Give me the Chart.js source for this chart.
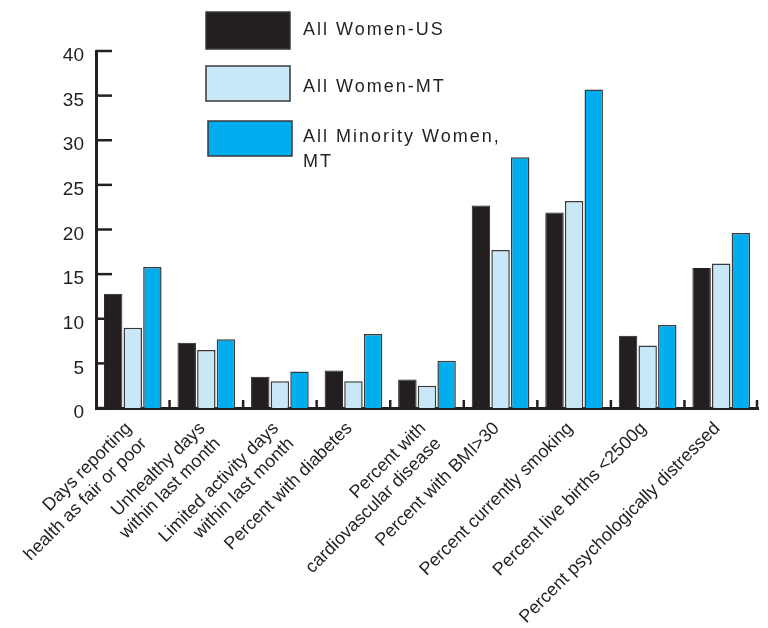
<!DOCTYPE html>
<html>
<head>
<meta charset="utf-8">
<script src="https://cdn.jsdelivr.net/npm/chart.js@4.4.1/dist/chart.umd.min.js"></script>
<style>
  html, body { margin: 0; padding: 0; background: #fff; }
  #wrap { width: 768px; height: 628px; }
</style>
</head>
<body>
<div id="wrap"><canvas id="chart" width="768" height="628"></canvas></div>
<script>
// --- Dados do gráfico ---
const categories = [
    ['Days reporting', 'health as fair or poor'],
    ['Unhealthy days', 'within last month'],
    ['Limited activity days', 'within last month'],
    'Percent with diabetes',
    ['Percent with', 'cardiovascular disease'],
    'Percent with BMI>30',
    'Percent currently smoking',
    'Percent live births <2500g',
    'Percent psychologically distressed'
];
const allWomenUS = [12.8, 7.3, 3.5, 4.2, 3.2, 22.7, 21.9, 8.1, 15.7];
const allWomenMT = [9.0, 6.5, 3.0, 3.0, 2.5, 17.7, 23.2, 7.0, 16.2];
const minorityWomenMT = [15.8, 7.7, 4.1, 8.3, 5.3, 28.1, 35.7, 9.3, 19.6];
const seriesLabels = ['All Women-US', 'All Women-MT', ['All Minority Women,', 'MT']];

const INK = '#231f20';
const FONT = '"Liberation Sans", Arial, sans-serif';

// legenda desenhada à mão (caixas empilhadas, texto em duas linhas no último)
const legendPlugin = {
    id: 'stackedLegend',
    afterDraw(chart) {
        const ctx = chart.ctx;
        const boxes = [
            { x: 206, y: 12, w: 84, h: 37, ty: 30 },
            { x: 206, y: 66, w: 84, h: 35, ty: 87 },
            { x: 208, y: 121, w: 84, h: 35, ty: 137 }
        ];
        ctx.save();
        ctx.textBaseline = 'middle';
        chart.data.datasets.forEach((ds, i) => {
            const b = boxes[i];
            ctx.fillStyle = ds.backgroundColor;
            ctx.fillRect(b.x, b.y, b.w, b.h);
            ctx.strokeStyle = '#3a3a3a';
            ctx.lineWidth = 1.5;
            ctx.strokeRect(b.x, b.y, b.w, b.h);
            ctx.fillStyle = INK;
            ctx.font = '18px ' + FONT;
            ctx.letterSpacing = '2px';
            const lines = [].concat(seriesLabels[i]);
            lines.forEach((line, k) => ctx.fillText(line, 303, b.ty + k * 25));
            ctx.letterSpacing = '0px';
        });
        ctx.restore();
    }
};

// ticks para dentro no eixo Y e marcas de separação no eixo X
const axisTicksPlugin = {
    id: 'axisTicks',
    afterDraw(chart) {
        const ctx = chart.ctx;
        const area = chart.chartArea;
        const y = chart.scales.y;
        const x = chart.scales.x;
        ctx.save();
        ctx.strokeStyle = INK;
        ctx.lineWidth = 2.5;
        y.ticks.forEach(t => {
            const py = y.getPixelForValue(t.value);
            ctx.beginPath();
            ctx.moveTo(area.left, py);
            ctx.lineTo(area.left + 16, py);
            ctx.stroke();
        });
        const half = (x.getPixelForValue(1) - x.getPixelForValue(0)) / 2;
        categories.forEach((c, i) => {
            const px = Math.min(x.getPixelForValue(i) + half, area.right - 1);
            ctx.beginPath();
            ctx.moveTo(px, area.bottom);
            ctx.lineTo(px, area.bottom - 8);
            ctx.stroke();
        });
        ctx.restore();
    }
};

const barBorder = '#3a3a3a';
new Chart(document.getElementById('chart'), {
    type: 'bar',
    data: {
        labels: categories,
        datasets: [
            { label: 'All Women-US', data: allWomenUS, backgroundColor: INK, borderColor: INK, borderWidth: 1 },
            { label: 'All Women-MT', data: allWomenMT, backgroundColor: '#c8e8f8', borderColor: barBorder, borderWidth: 1.5 },
            { label: 'All Minority Women, MT', data: minorityWomenMT, backgroundColor: '#00adee', borderColor: barBorder, borderWidth: 1.5 }
        ]
    },
    options: {
        responsive: false,
        animation: false,
        layout: { padding: { left: 0, right: 10, top: 51, bottom: 0 } },
        datasets: { bar: { categoryPercentage: 0.8, barPercentage: 0.94 } },
        plugins: { legend: { display: false }, tooltip: { enabled: false } },
        scales: {
            x: {
                grid: { display: false, drawTicks: false },
                border: { display: true, color: INK, width: 3 },
                ticks: {
                    color: INK, font: { family: FONT, size: 18 },
                    autoSkip: false, minRotation: 45, maxRotation: 45, padding: 10, labelOffset: -4
                },
                afterFit: scale => { scale.height = 220; scale.paddingLeft = 0; scale.paddingRight = 0; }
            },
            y: {
                min: 0, max: 40,
                grid: { display: false, drawTicks: false },
                border: { display: true, color: INK, width: 3 },
                ticks: { stepSize: 5, color: INK, font: { family: FONT, size: 19 }, padding: 12, labelOffset: 5 },
                afterFit: scale => { scale.width = 96; }
            }
        }
    },
    plugins: [legendPlugin, axisTicksPlugin]
});
</script>
</body>
</html>
